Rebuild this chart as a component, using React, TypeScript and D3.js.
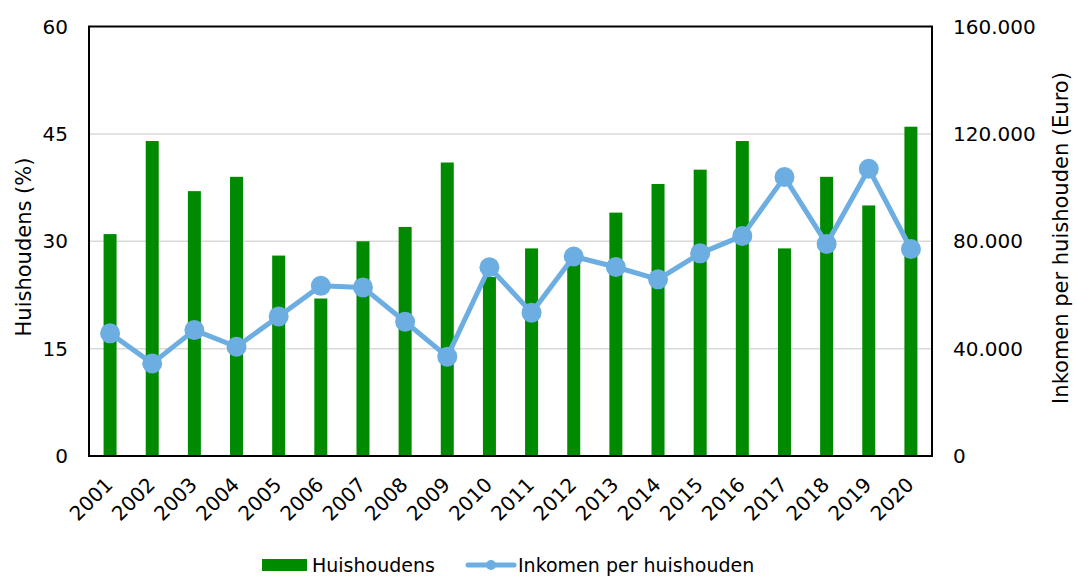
import React from "react";
import * as d3 from "d3";

const years = ["2001","2002","2003","2004","2005","2006","2007","2008","2009","2010","2011","2012","2013","2014","2015","2016","2017","2018","2019","2020"];
const huishoudens = [31,44,37,39,28,22,30,32,41,25,29,27,34,38,40,44,29,39,35,46];
const inkomen = [45700,34500,46900,40700,52000,63400,62800,50000,37000,70300,53400,74300,70400,65800,75500,82000,103900,79000,107000,77100];
const leftTicks = [0,15,30,45,60];
const rightTicks = [0,40000,80000,120000,160000];
const rightTickLabels = ["0","40.000","80.000","120.000","160.000"];

const W = 1077, H = 576;
const M = { left: 89, right: 932, top: 26.5, bottom: 456 };
const FONT = "'DejaVu Sans', Verdana, sans-serif";
const GREEN = "#008a00";
const BLUE = "#6caee2";

export default function App() {
  const x = d3.scaleBand<string>().domain(years).range([M.left, M.right]).paddingInner(0).paddingOuter(0);
  const yL = d3.scaleLinear().domain([0, 60]).range([M.bottom, M.top]);
  const yR = d3.scaleLinear().domain([0, 160000]).range([M.bottom, M.top]);
  const barW = 13;
  const cx = (d: string) => (x(d) as number) + x.bandwidth() / 2;
  const line = d3.line<number>().x((_, i) => cx(years[i])).y((d) => yR(d));

  return (
    <svg width={W} height={H} style={{ position: "absolute", left: 0, top: 0, background: "#fff" }} fontFamily={FONT}>
      {leftTicks.filter((t) => t > 0 && t < 60).map((t) => (
        <line key={t} x1={M.left} x2={M.right} y1={yL(t)} y2={yL(t)} stroke="#d9d9d9" strokeWidth={1.5} />
      ))}
      {huishoudens.map((v, i) => (
        <rect key={years[i]} x={cx(years[i]) - barW / 2} y={yL(v)} width={barW} height={yL(0) - yL(v)} fill={GREEN} />
      ))}
      <rect x={M.left} y={M.top} width={M.right - M.left} height={M.bottom - M.top} fill="none" stroke="#000" strokeWidth={2} />
      <path d={line(inkomen) || ""} fill="none" stroke={BLUE} strokeWidth={5} strokeLinejoin="round" />
      {inkomen.map((v, i) => (
        <circle key={years[i]} cx={cx(years[i])} cy={yR(v)} r={10} fill={BLUE} />
      ))}
      {leftTicks.map((t) => (
        <text key={t} x={68} y={yL(t)} dy="0.36em" textAnchor="end" fontSize={20} fill="#000">{t}</text>
      ))}
      {rightTicks.map((t, i) => (
        <text key={t} x={953} y={yR(t)} dy="0.36em" textAnchor="start" fontSize={20} fill="#000">{rightTickLabels[i]}</text>
      ))}
      {years.map((yr) => (
        <text key={yr} transform={`translate(${cx(yr) + 4},${486}) rotate(-45)`} textAnchor="end" fontSize={20} fill="#000">{yr}</text>
      ))}
      <text transform={`translate(${31},${247}) rotate(-90)`} textAnchor="middle" fontSize={21} fill="#000">Huishoudens (%)</text>
      <text transform={`translate(${1068},${238}) rotate(-90)`} textAnchor="middle" fontSize={21} fill="#000">Inkomen per huishouden (Euro)</text>
      <rect x={262} y={559} width={45} height={12} fill={GREEN} />
      <text x={312} y={572} fontSize={19} fill="#000">Huishoudens</text>
      <line x1={468} x2={514} y1={565} y2={565} stroke={BLUE} strokeWidth={5} strokeLinecap="round" />
      <circle cx={491} cy={565} r={5} fill={BLUE} />
      <text x={518} y={572} fontSize={19} fill="#000">Inkomen per huishouden</text>
    </svg>
  );
}
